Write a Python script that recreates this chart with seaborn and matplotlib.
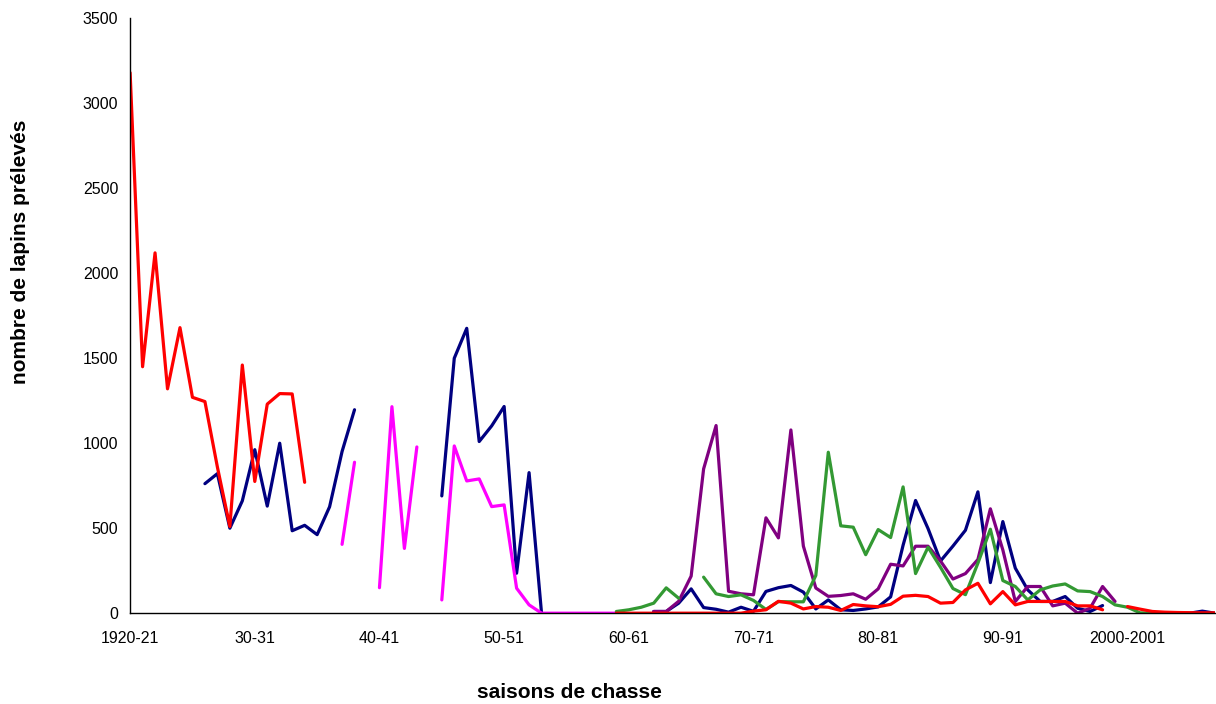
import numpy as np
import pandas as pd
import matplotlib
matplotlib.use("Agg")
import matplotlib.pyplot as plt
import seaborn as sns

nan = np.nan

# hunting seasons 1920-21 .. 2007-08, one value per season
seasons = [f"{y}-{str(y + 1)[-2:]}" for y in range(1920, 2008)]
tick_labels = ["1920-21", "30-31", "40-41", "50-51", "60-61",
               "70-71", "80-81", "90-91", "2000-2001"]

red = ([3180, 1450, 2120, 1320, 1680, 1270, 1245, 860, 510, 1460,
        775, 1230, 1292, 1290, 770]
       + [nan] * 24
       + [0] * 11
       + [12, 20, 70, 59, 25, 39, 35, 16, 51, 43,
          38, 52, 100, 105, 98, 59, 63, 137, 176, 55,
          127, 49, 69, 69, 69, 69, 43, 43, 20]
       + [nan]
       + [39, 24, 10, 6, 4, 3, 2, 2])

navy = ([nan] * 6
        + [762, 821, 500, 661, 962, 630, 1000, 485, 517, 462, 626, 951, 1197]
        + [nan] * 6
        + [690, 1500, 1676, 1010, 1102, 1216, 235, 827, 0]
        + [nan] * 8
        + [10, 10, 59, 143, 33, 23, 6, 35, 11, 128,
           150, 163, 124, 25, 78, 20, 16, 25, 37, 96,
           400, 663, 498, 307, 395, 488, 714, 180, 539, 265,
           137, 69, 69, 98, 29, 10, 45]
        + [nan] * 5
        + [0, 0, 12, 0])

magenta = ([nan] * 17
           + [405, 888, nan, 150, 1215, 381, 978, nan,
              78, 984, 778, 790, 627, 637, 147, 49, 0]
           + [0] * 6
           + [nan] * 48)

green = ([nan] * 39
         + [10, 20, 35, 59, 149, 88, nan,
            212, 114, 98, 108, 75, 22, 68, 67, 67, 222, 947, 514, 506, 344,
            492, 445, 743, 233, 388, 270, 145, 109, 294, 494,
            192, 157, 78, 137, 160, 172, 131, 127, 98, 49,
            35, 2, 0]
         + [nan] * 5)

purple = ([nan] * 42
          + [10, 10, 70, 218, 849, 1104, 129, 114, 108, 561,
             443, 1078, 395, 148, 99, 104, 114, 82, 143, 288,
             278, 394, 394, 307, 201, 233, 316, 614, 372, 69,
             157, 157, 43, 59, 0, 29, 157, 69]
          + [nan, nan]
          + [0] * 6)

series = {"navy": navy, "magenta": magenta, "purple": purple,
          "green": green, "red": red}
colors = {"navy": "#000080", "magenta": "#FF00FF", "purple": "#800080",
          "green": "#339933", "red": "#FF0000"}

# long table, a new segment id after each missing season so gaps stay open
rows = []
seg = 0
for name, vals in series.items():
    seg += 1
    for i, v in enumerate(vals):
        if np.isnan(v):
            seg += 1
            continue
        rows.append({"season": i, "value": v, "series": name,
                     "segment": seg})
df = pd.DataFrame(rows)

sns.set_style("white")
plt.rcParams["font.family"] = ["Liberation Sans", "DejaVu Sans"]
plt.rcParams["text.color"] = "black"
plt.rcParams["axes.labelcolor"] = "black"

fig = plt.figure(figsize=(12.16, 7.04), dpi=100)
ax = fig.add_axes([0.107, 0.129, 0.892, 0.845])

sns.lineplot(data=df, x="season", y="value", hue="series",
             units="segment", estimator=None, palette=colors,
             hue_order=list(series.keys()), linewidth=2.3,
             legend=False, ax=ax)

ax.set_xlim(0, 87)
ax.set_ylim(0, 3500)
ax.set_yticks(range(0, 3501, 500))
ax.set_xticks(range(0, 81, 10))
ax.set_xticklabels(tick_labels)
ax.tick_params(axis="both", direction="inout", length=7, width=1,
               labelsize=11.5, colors="black", labelcolor="black", pad=5)
ax.tick_params(axis="x", pad=9)

for side in ["top", "right"]:
    ax.spines[side].set_visible(False)
for side in ["left", "bottom"]:
    ax.spines[side].set_color("black")
    ax.spines[side].set_linewidth(1)

ax.set_xlabel("saisons de chasse", fontsize=15, fontweight="bold")
ax.set_ylabel("nombre de lapins prélevés", fontsize=15, fontweight="bold")
ax.xaxis.set_label_coords(0.405, -0.118)
ax.yaxis.set_label_coords(-0.092, 0.607)

fig.savefig("out.png", dpi=100)
